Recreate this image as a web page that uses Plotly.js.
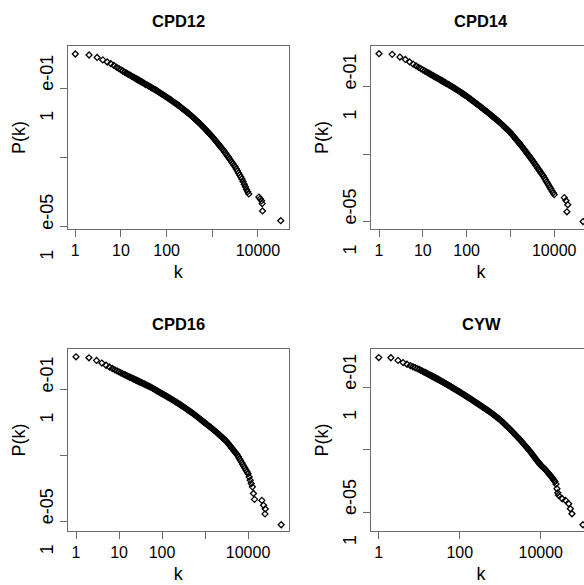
<!DOCTYPE html>
<html>
<head>
<meta charset="utf-8">
<script src="https://cdn.plot.ly/plotly-3.0.1.min.js"></script>
<style>
html,body{margin:0;padding:0;overflow:hidden;background:#fff;}
#chart{width:605px;height:605px;}
</style>
</head>
<body>
<div id="chart"></div>
<script>
// Shared degree values k (integers 1..30, then roughly log-spaced degrees)
const degrees = [1,2,3,4,5,6,7,8,9,10,11,12,13,14,15,16,17,18,19,20,21,22,23,24,25,26,27,28,29,30,
32,33,35,38,40,42,45,47,50,53,56,60,63,67,71,75,79,84,89,94,
100,106,112,119,126,133,141,150,158,168,178,188,200,211,224,237,251,266,282,299,
316,335,355,376,398,422,447,473,501,531,562,596,631,668,708,750,794,841,891,944,
1000,1059,1122,1189,1259,1334,1413,1496,1585,1679,1778,1884,1995,2113,2239,2371,2512,2661,2818,2985,
3162,3350,3548,3758,3981,4217,4467,4732,5012,5309,5623,5957,6310,6683,7079,7499,7943,8414,8913,9441,
10000,10593,11220,11885,12589,13335,14125,14962,15849,16788,17783,18836,19953,21135,22387,23714,25119];

// log10 P(k), aligned with `degrees`
const cpd12_log10P = [-0.02,-0.05,-0.12,-0.19,-0.25,-0.30,-0.35,-0.40,-0.44,-0.48,-0.51,-0.54,-0.567,-0.59,-0.614,-0.635,-0.655,-0.674,-0.692,-0.709,-0.725,-0.74,-0.755,-0.769,-0.783,-0.796,-0.808,-0.82,-0.831,-0.843,
-0.860,-0.879,-0.898,-0.917,-0.936,-0.955,-0.974,-0.993,-1.012,-1.031,-1.050,-1.071,-1.092,-1.113,-1.134,-1.155,-1.176,-1.197,-1.218,-1.239,
-1.260,-1.283,-1.306,-1.329,-1.352,-1.375,-1.398,-1.421,-1.444,-1.467,-1.490,-1.516,-1.542,-1.568,-1.594,-1.620,-1.646,-1.672,-1.698,-1.724,
-1.750,-1.780,-1.810,-1.840,-1.870,-1.900,-1.930,-1.960,-1.990,-2.020,-2.050,-2.085,-2.120,-2.155,-2.190,-2.225,-2.260,-2.295,-2.330,-2.365,
-2.400,-2.440,-2.480,-2.520,-2.560,-2.600,-2.640,-2.680,-2.720,-2.760,-2.800,-2.847,-2.894,-2.941,-2.988,-3.035,-3.082,-3.129,-3.176,-3.223,
-3.270,-3.328,-3.386,-3.444,-3.502,-3.560,-3.620,-3.695,-3.770,-3.845,-3.920,-3.985,-4.050];
const cpd12_tailK = [10500,11200,12000,12400,12600,31600];
const cpd12_tailLog10P = [-4.14,-4.19,-4.25,-4.33,-4.54,-4.82];

const cpd14_log10P = [-0.02,-0.04,-0.12,-0.19,-0.265,-0.327,-0.379,-0.425,-0.465,-0.50,-0.530,-0.558,-0.584,-0.608,-0.630,-0.651,-0.670,-0.689,-0.706,-0.723,-0.738,-0.753,-0.768,-0.781,-0.795,-0.807,-0.819,-0.831,-0.842,-0.853,
-0.870,-0.890,-0.909,-0.929,-0.948,-0.968,-0.987,-1.007,-1.026,-1.046,-1.065,-1.087,-1.108,-1.130,-1.151,-1.173,-1.194,-1.216,-1.237,-1.259,
-1.280,-1.305,-1.329,-1.354,-1.378,-1.403,-1.427,-1.452,-1.476,-1.501,-1.525,-1.551,-1.576,-1.602,-1.627,-1.653,-1.678,-1.704,-1.729,-1.755,
-1.780,-1.807,-1.834,-1.861,-1.888,-1.915,-1.942,-1.969,-1.996,-2.023,-2.050,-2.081,-2.112,-2.143,-2.174,-2.205,-2.236,-2.267,-2.298,-2.329,
-2.360,-2.399,-2.438,-2.477,-2.516,-2.555,-2.594,-2.633,-2.672,-2.711,-2.750,-2.793,-2.836,-2.879,-2.922,-2.965,-3.008,-3.051,-3.094,-3.137,
-3.180,-3.227,-3.274,-3.321,-3.368,-3.415,-3.462,-3.509,-3.556,-3.603,-3.650,-3.705,-3.760,-3.815,-3.870,-3.925,-3.980,-4.035,-4.090,-4.145,
-4.200];
const cpd14_tailK = [17000,18600,20400,19500,45700];
const cpd14_tailLog10P = [-4.29,-4.38,-4.50,-4.71,-5.00];

const cpd16_log10P = [0.0,-0.03,-0.11,-0.19,-0.256,-0.31,-0.355,-0.395,-0.43,-0.46,-0.486,-0.51,-0.532,-0.552,-0.571,-0.588,-0.605,-0.62,-0.635,-0.649,-0.662,-0.675,-0.687,-0.698,-0.709,-0.72,-0.73,-0.74,-0.749,-0.758,
-0.770,-0.786,-0.802,-0.818,-0.834,-0.850,-0.866,-0.882,-0.898,-0.914,-0.930,-0.949,-0.968,-0.987,-1.006,-1.025,-1.044,-1.063,-1.082,-1.101,
-1.120,-1.139,-1.158,-1.177,-1.196,-1.215,-1.234,-1.253,-1.272,-1.291,-1.310,-1.331,-1.352,-1.373,-1.394,-1.415,-1.436,-1.457,-1.478,-1.499,
-1.520,-1.543,-1.566,-1.589,-1.612,-1.635,-1.658,-1.681,-1.704,-1.727,-1.750,-1.776,-1.802,-1.828,-1.854,-1.880,-1.906,-1.932,-1.958,-1.984,
-2.010,-2.036,-2.062,-2.088,-2.114,-2.140,-2.166,-2.192,-2.218,-2.244,-2.270,-2.300,-2.330,-2.360,-2.390,-2.420,-2.450,-2.480,-2.510,-2.540,
-2.570,-2.611,-2.652,-2.693,-2.734,-2.775,-2.816,-2.857,-2.898,-2.939,-2.980,-3.037,-3.094,-3.151,-3.208,-3.265,-3.322,-3.379,-3.436,-3.493,
-3.550,-3.650,-3.750,-3.850,-3.950,-4.150,-4.330];
const cpd16_tailK = [20900,22900,25100,24800,58900];
const cpd16_tailLog10P = [-4.36,-4.51,-4.62,-4.77,-5.10];

const cyw_log10P = [-0.06,-0.065,-0.15,-0.22,-0.273,-0.316,-0.353,-0.385,-0.414,-0.44,-0.467,-0.492,-0.516,-0.537,-0.558,-0.577,-0.595,-0.612,-0.628,-0.643,-0.657,-0.671,-0.685,-0.697,-0.709,-0.721,-0.732,-0.743,-0.753,-0.764,
-0.780,-0.799,-0.817,-0.836,-0.854,-0.873,-0.891,-0.910,-0.928,-0.947,-0.965,-0.985,-1.004,-1.024,-1.043,-1.063,-1.082,-1.102,-1.121,-1.141,
-1.160,-1.181,-1.201,-1.222,-1.242,-1.263,-1.283,-1.304,-1.324,-1.345,-1.365,-1.387,-1.408,-1.430,-1.451,-1.473,-1.494,-1.516,-1.537,-1.559,
-1.580,-1.602,-1.624,-1.646,-1.668,-1.690,-1.712,-1.734,-1.756,-1.778,-1.800,-1.825,-1.850,-1.875,-1.900,-1.925,-1.950,-1.975,-2.000,-2.025,
-2.050,-2.081,-2.112,-2.143,-2.174,-2.205,-2.236,-2.267,-2.298,-2.329,-2.360,-2.394,-2.428,-2.462,-2.496,-2.530,-2.564,-2.598,-2.632,-2.666,
-2.700,-2.738,-2.776,-2.814,-2.852,-2.890,-2.928,-2.966,-3.004,-3.042,-3.080,-3.123,-3.167,-3.210,-3.253,-3.297,-3.340,-3.380,-3.420,-3.460,
-3.500,-3.530,-3.560,-3.590,-3.620,-3.658,-3.695,-3.733,-3.770,-3.810,-3.850,-3.890,-3.930,-3.975,-4.020,-4.100,-4.250];
const cyw_tailK = [26300,27500,33900,40700,49000,53700,58900,110000];
const cyw_tailLog10P = [-4.38,-4.46,-4.57,-4.62,-4.73,-4.89,-5.05,-5.40];

const panelTitles = ['CPD12','CPD14','CPD16','CYW'];
const xTickVals4 = [1,10,100,1000,10000];
const xTickText4 = ['1','10','100','','10000'];
const xTickValsCYW = [1,100,10000];
const xTickTextCYW = ['1','100','10000'];
const yTickVals = [1e-5,1e-3,1e-1];
const yTickText = ['1\u00a0\u00a0\u00a0\u00a0e-05\u00a0','','1\u00a0\u00a0\u00a0\u00a0e-01\u00a0'];
const xTitle = 'k';
const yTitle = 'P(k)';

const panels = [
  {log: cpd12_log10P, tk: cpd12_tailK, tp: cpd12_tailLog10P, xr:[-0.16,4.67], yr:[-5.06,0.21], xv:xTickVals4, xt:xTickText4},
  {log: cpd14_log10P, tk: cpd14_tailK, tp: cpd14_tailLog10P, xr:[-0.183,4.84], yr:[-5.22,0.208], xv:xTickVals4, xt:xTickText4},
  {log: cpd16_log10P, tk: cpd16_tailK, tp: cpd16_tailLog10P, xr:[-0.186,4.94], yr:[-5.29,0.237], xv:xTickVals4, xt:xTickText4},
  {log: cyw_log10P, tk: cyw_tailK, tp: cyw_tailLog10P, xr:[-0.19,5.24], yr:[-5.60,0.214], xv:xTickValsCYW, xt:xTickTextCYW}
];

const W = 605, H = 605;
const colDom = [[68/W, 288.5/W],[371/W, 591/W]];
const rowDom = [[1-229/W, 1-46/W],[1-531/W, 1-349/W]];
const FONT = 'Liberation Sans, Arial, Helvetica, sans-serif';
const LINE = '#6a6a6a';

const traces = [];
const layout = {
  width: W, height: H, margin:{l:0,r:0,t:0,b:0},
  paper_bgcolor:'#fff', plot_bgcolor:'#fff', showlegend:false,
  font:{family:FONT, color:'#000'}, annotations:[]
};

panels.forEach((p,i)=>{
  const n = i+1;
  const xs = degrees.slice(0, p.log.length).concat(p.tk);
  const ys = p.log.concat(p.tp).map(v=>Math.pow(10,v));
  traces.push({
    type:'scatter', mode:'markers', x:xs, y:ys,
    xaxis:'x'+(n===1?'':n), yaxis:'y'+(n===1?'':n),
    marker:{symbol:'diamond-open', size:4.6, color:'#000', line:{width:1.3, color:'#000'}},
    hoverinfo:'x+y'
  });
  const col = i%2, row = Math.floor(i/2);
  const common = {
    type:'log', showgrid:false, zeroline:false, showline:true, mirror:true,
    linecolor:LINE, linewidth:1, ticks:'outside', ticklen:7, tickwidth:1, tickcolor:LINE,
    tickfont:{family:FONT, size:16, color:'#000'}, tickmode:'array', fixedrange:true
  };
  layout['xaxis'+(n===1?'':n)] = Object.assign({}, common, {
    domain: colDom[col], range: p.xr, anchor:'y'+(n===1?'':n),
    tickvals:p.xv, ticktext:p.xt,
    title:{text:xTitle, font:{family:FONT, size:18, color:'#000'}, standoff:7}
  });
  layout['yaxis'+(n===1?'':n)] = Object.assign({}, common, {
    domain: rowDom[row], range: p.yr, anchor:'x'+(n===1?'':n),
    tickvals:yTickVals, ticktext:yTickText, tickangle:-90,
    tickfont:{family:FONT, size:18, color:'#000'},
    title:{text:yTitle, font:{family:FONT, size:18, color:'#000'}, standoff:6}
  });
  layout.annotations.push({
    text:'<b>'+panelTitles[i]+'</b>', xref:'paper', yref:'paper',
    x:(colDom[col][0]+colDom[col][1])/2, y: row===0 ? 1-21/H : 1-324/H,
    xanchor:'center', yanchor:'middle', showarrow:false,
    font:{family:FONT, size:16.5, color:'#000'}
  });
});

Plotly.newPlot('chart', traces, layout, {displayModeBar:false, staticPlot:true});
</script>
</body>
</html>
